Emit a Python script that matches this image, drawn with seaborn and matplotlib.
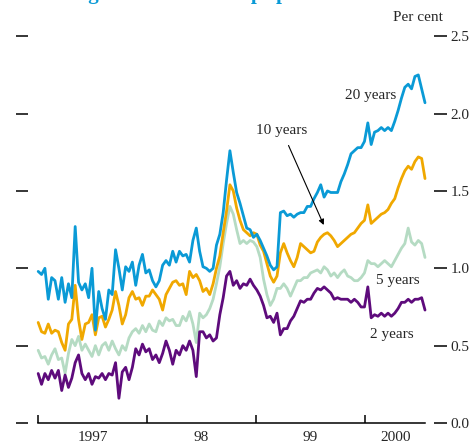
import numpy as np
import pandas as pd
import matplotlib
matplotlib.use("Agg")
import matplotlib.pyplot as plt
import matplotlib.dates as mdates
from matplotlib.ticker import FixedLocator, FixedFormatter, FormatStrFormatter
import seaborn as sns

# sampling dates (roughly every 11 days, Jan 1997 - Jul 2000)
dates = pd.date_range("1997-01-01", "2000-07-19", periods=116)

spread_20y = [0.98, 0.96, 1.00, 0.80, 0.94, 0.92, 0.80, 0.94, 0.78, 0.90, 0.81,
              1.27, 0.91, 0.86, 0.90, 0.81, 1.00, 0.60, 0.85, 0.74, 0.67,
              0.86, 0.83, 1.12, 1.00, 0.86, 1.01, 0.98, 1.04, 0.89, 1.02,
              1.09, 0.97, 0.99, 0.92, 0.88, 0.92, 1.02, 1.05, 1.02, 1.11,
              1.04, 1.11, 1.08, 1.09, 1.04, 1.18, 1.26, 1.11, 1.01, 1.00,
              0.98, 1.00, 1.15, 1.22, 1.36, 1.57, 1.76, 1.62, 1.49, 1.42,
              1.34, 1.26, 1.25, 1.20, 1.22, 1.18, 1.13, 1.08, 1.02, 0.99,
              1.01, 1.36, 1.37, 1.34, 1.35, 1.33, 1.35, 1.36, 1.36, 1.40,
              1.40, 1.45, 1.49, 1.54, 1.46, 1.50, 1.49, 1.49, 1.49, 1.56,
              1.61, 1.67, 1.74, 1.76, 1.78, 1.78, 1.82, 1.94, 1.80, 1.88,
              1.89, 1.91, 1.89, 1.91, 1.89, 1.95, 2.02, 2.10, 2.17, 2.19,
              2.16, 2.24, 2.25, 2.16, 2.07]

spread_10y = [0.65, 0.59, 0.58, 0.64, 0.58, 0.60, 0.59, 0.52, 0.47, 0.64, 0.67,
              0.89, 0.67, 0.54, 0.64, 0.65, 0.70, 0.57, 0.68, 0.69, 0.62,
              0.67, 0.73, 0.85, 0.76, 0.64, 0.70, 0.81, 0.85, 0.80, 0.81,
              0.76, 0.82, 0.82, 0.86, 0.83, 0.80, 0.73, 0.83, 0.87, 0.91,
              0.92, 0.89, 0.90, 0.83, 0.98, 0.94, 0.96, 0.92, 0.85, 0.87,
              0.83, 0.90, 1.00, 1.08, 1.23, 1.37, 1.54, 1.50, 1.39, 1.31,
              1.25, 1.23, 1.21, 1.23, 1.22, 1.15, 1.11, 1.03, 0.95, 0.91,
              0.95, 1.10, 1.16, 1.10, 1.05, 1.01, 1.07, 1.16, 1.14, 1.12,
              1.10, 1.11, 1.17, 1.20, 1.22, 1.23, 1.21, 1.18, 1.14, 1.16,
              1.18, 1.20, 1.22, 1.23, 1.26, 1.29, 1.31, 1.41, 1.29, 1.31,
              1.33, 1.35, 1.36, 1.38, 1.42, 1.45, 1.52, 1.58, 1.63, 1.66,
              1.64, 1.69, 1.72, 1.71, 1.58]

spread_5y = [0.47, 0.42, 0.43, 0.38, 0.44, 0.48, 0.41, 0.42, 0.32, 0.45, 0.54,
             0.50, 0.56, 0.47, 0.51, 0.47, 0.43, 0.50, 0.44, 0.50, 0.52,
             0.47, 0.53, 0.48, 0.44, 0.50, 0.47, 0.55, 0.59, 0.61, 0.58,
             0.63, 0.59, 0.64, 0.60, 0.59, 0.66, 0.63, 0.68, 0.66, 0.67,
             0.63, 0.63, 0.69, 0.66, 0.72, 0.64, 0.52, 0.71, 0.68, 0.70,
             0.74, 0.80, 0.90, 1.01, 1.16, 1.29, 1.40, 1.35, 1.25, 1.16,
             1.18, 1.16, 1.18, 1.17, 1.14, 1.07, 0.93, 0.83, 0.76, 0.80,
             0.87, 0.87, 0.90, 0.87, 0.82, 0.87, 0.92, 0.92, 0.94, 0.94,
             0.97, 0.98, 0.99, 0.97, 1.01, 0.99, 0.95, 0.97, 0.94, 0.97,
             0.99, 0.95, 0.94, 0.92, 0.92, 0.94, 0.97, 1.05, 1.03, 1.03,
             1.01, 1.03, 1.05, 1.03, 1.01, 1.05, 1.09, 1.13, 1.16, 1.26,
             1.17, 1.15, 1.18, 1.16, 1.07]

spread_2y = [0.32, 0.25, 0.32, 0.28, 0.34, 0.29, 0.34, 0.21, 0.31, 0.23, 0.29,
             0.39, 0.44, 0.32, 0.28, 0.32, 0.25, 0.30, 0.29, 0.32, 0.28,
             0.32, 0.31, 0.39, 0.16, 0.33, 0.36, 0.28, 0.36, 0.48, 0.44,
             0.51, 0.46, 0.48, 0.41, 0.44, 0.39, 0.45, 0.53, 0.47, 0.38,
             0.47, 0.44, 0.50, 0.47, 0.53, 0.47, 0.30, 0.59, 0.59, 0.55,
             0.57, 0.53, 0.55, 0.70, 0.81, 0.95, 0.98, 0.89, 0.92, 0.87,
             0.90, 0.89, 0.93, 0.89, 0.86, 0.82, 0.76, 0.68, 0.69, 0.65,
             0.71, 0.57, 0.61, 0.61, 0.66, 0.69, 0.74, 0.79, 0.78, 0.80,
             0.80, 0.84, 0.87, 0.86, 0.88, 0.86, 0.84, 0.80, 0.81, 0.80,
             0.80, 0.80, 0.78, 0.80, 0.78, 0.75, 0.75, 0.88, 0.68, 0.70,
             0.69, 0.71, 0.69, 0.71, 0.69, 0.71, 0.74, 0.78, 0.78, 0.80,
             0.78, 0.80, 0.80, 0.81, 0.73]

maturities = ["5 years", "2 years", "10 years", "20 years"]
colors = ["#b5dbc3", "#5e0b7c", "#f0a800", "#0a9ad6"]
year_ticks = ["1997-01-01", "1998-01-01", "1999-01-01", "2000-01-01"]
year_labels = ["1997", "98", "99", "2000"]
year_label_pos = ["1997-07-02", "1998-07-02", "1999-07-02", "2000-04-10"]
y_ticks = [0.0, 0.5, 1.0, 1.5, 2.0, 2.5]

if __name__ == "__main__":
    df = pd.DataFrame({
        "date": np.tile(dates, 4),
        "spread": spread_5y + spread_2y + spread_10y + spread_20y,
        "maturity": np.repeat(maturities, len(dates)),
    })

    sns.set_style("white")
    plt.rcParams["font.family"] = ["Liberation Serif", "DejaVu Serif"]

    fig = plt.figure(figsize=(4.75, 4.41), dpi=100)
    ax = fig.add_axes([0.059, 0.0408, 0.854, 0.877])

    sns.lineplot(data=df, x="date", y="spread", hue="maturity",
                 hue_order=maturities, palette=colors, linewidth=2,
                 legend=False, ax=ax)

    ax.set_xlim(pd.Timestamp("1996-11-28"), pd.Timestamp("2000-08-17"))
    ax.set_ylim(0, 2.5)
    ax.set_xlabel("")
    ax.set_ylabel("")

    for s in ["left", "right", "top"]:
        ax.spines[s].set_visible(False)
    ax.spines["bottom"].set_bounds(mdates.date2num(dates[0]), mdates.date2num(dates[-1]))
    ax.spines["bottom"].set_linewidth(1.1)
    ax.spines["bottom"].set_color("black")

    # x axis: tick marks at year boundaries, labels mid-year
    ax.xaxis.set_major_locator(FixedLocator(mdates.date2num(pd.to_datetime(year_ticks))))
    ax.xaxis.set_major_formatter(FixedFormatter([""] * 4))
    ax.xaxis.set_minor_locator(FixedLocator(mdates.date2num(pd.to_datetime(year_label_pos))))
    ax.xaxis.set_minor_formatter(FixedFormatter(year_labels))
    ax.tick_params(axis="x", which="major", direction="in", length=6, width=1.1,
                   color="black", bottom=True)
    ax.tick_params(axis="x", which="minor", length=0, pad=6, labelsize=11,
                   bottom=True)

    # y axis: ticks on both sides, labels on the right
    ax.set_yticks(y_ticks)
    ax.yaxis.set_major_formatter(FormatStrFormatter("%.1f"))
    ax.tick_params(axis="y", left=True, right=True, labelleft=False, labelright=True,
                   direction="out", length=9, width=1.1, color="black",
                   pad=3, labelsize=11)

    ax.text(pd.Timestamp("2000-01-20"), 2.12, "20 years", ha="center", va="center", fontsize=11)
    ax.text(pd.Timestamp("2000-04-20"), 0.92, "5 years", ha="center", va="center", fontsize=11)
    ax.text(pd.Timestamp("2000-03-31"), 0.57, "2 years", ha="center", va="center", fontsize=11)
    ax.annotate("10 years", xy=(pd.Timestamp("1999-08-15"), 1.28),
                xytext=(pd.Timestamp("1999-03-28"), 1.89), ha="center", va="center",
                fontsize=11,
                arrowprops=dict(arrowstyle="-|>", color="black", lw=0.8,
                                mutation_scale=8, shrinkA=4, shrinkB=0))

    fig.text(0.88, 0.96, "Per cent", ha="center", va="center", fontsize=11)
    fig.text(0.06, 1.0 + 1.5 / 441, "Sterling interest rate swap spreads",
             ha="left", va="baseline", fontsize=15, fontweight="bold", color="#0a9ad6")

    fig.savefig("out.png", dpi=100)
